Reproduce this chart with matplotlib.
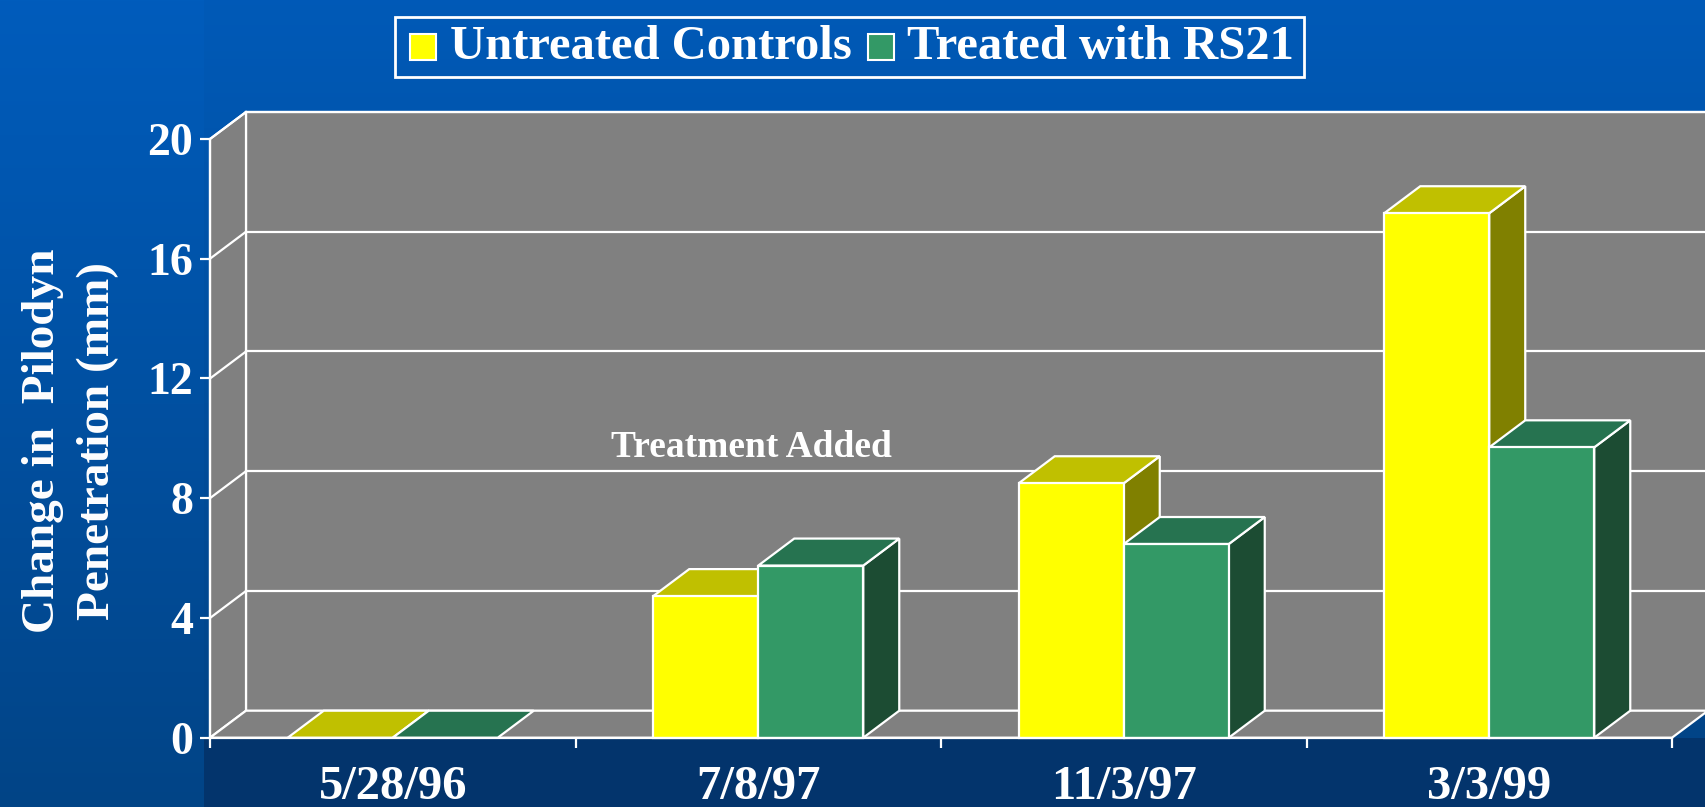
import numpy as np
import matplotlib
matplotlib.use('Agg')
from matplotlib import pyplot as plt
from matplotlib.patches import Polygon, Rectangle

plt.rcParams['font.family'] = ['Liberation Serif', 'DejaVu Serif']
plt.rcParams['font.weight'] = 'bold'

dates = ['5/28/96', '7/8/97', '11/3/97', '3/3/99']
untreated = [0.0, 4.73, 8.50, 17.52]
treated = [0.0, 5.75, 6.47, 9.70]
series_names = ['Untreated Controls', 'Treated with RS21']
y_ticks = [0, 4, 8, 12, 16, 20]

# colours: front, top, side
yellow = ('#ffff00', '#c0c000', '#808000')
green = ('#339966', '#267350', '#1c4c33')
gray = '#808080'

W, H = 1705, 807
DX = 36 / 365.5   # depth offset in category units
DY = 27 / 29.93   # depth offset in value units
BW = 0.2873       # bar width

fig = plt.figure(figsize=(W / 100, H / 100), dpi=100)

# background gradient
bg = fig.add_axes([0, 0, 1, 1], zorder=-10)
t = np.linspace(0, 1, H)[:, None]
top = np.array([0, 92, 188]) / 255
bot = np.array([2, 68, 134]) / 255
img = np.ones((H, W, 3)) * (top + (bot - top) * t)[:, None, :].reshape(H, 1, 3)
img[:, 204:, :] *= 0.975
img[738:, 204:, :] = np.array([3, 52, 108]) / 255
bg.imshow(img, aspect='auto', extent=[0, W, H, 0])
bg.set_xlim(0, W)
bg.set_ylim(H, 0)
bg.axis('off')

ax = fig.add_axes([210 / W, (H - 737.7) / H, 1462 / W, (737.7 - 139) / H])
ax.set_xlim(0, 4)
ax.set_ylim(0, 20)
ax.patch.set_visible(False)
for s in ax.spines.values():
    s.set_visible(False)

def poly(pts, fc, z=1):
    ax.add_patch(Polygon(pts, closed=True, facecolor=fc, edgecolor='white',
                         linewidth=1.6, clip_on=False, zorder=z, joinstyle='miter'))

# walls and floor
poly([(DX, DY), (4 + DX, DY), (4 + DX, 20 + DY), (DX, 20 + DY)], gray, 0)
poly([(0, 0), (DX, DY), (DX, 20 + DY), (0, 20)], gray, 0)
poly([(0, 0), (4, 0), (4 + DX, DY), (DX, DY)], gray, 0)
for v in y_ticks[1:]:
    ax.plot([DX, 4 + DX], [v + DY, v + DY], color='white', lw=1.6, clip_on=False, zorder=0.5)
    ax.plot([0, DX], [v, v + DY], color='white', lw=1.6, clip_on=False, zorder=0.5)

def bar3d(x0, h, cols, z):
    x1 = x0 + BW
    if h > 0:
        poly([(x1, 0), (x1 + DX, DY), (x1 + DX, h + DY), (x1, h)], cols[2], z)
    poly([(x0, h), (x1, h), (x1 + DX, h + DY), (x0 + DX, h + DY)], cols[1], z)
    if h > 0:
        poly([(x0, 0), (x1, 0), (x1, h), (x0, h)], cols[0], z)

for i in range(len(dates)):
    c = i + 0.5
    bar3d(c - BW, untreated[i], yellow, 2 + i)
    bar3d(c, treated[i], green, 2.5 + i)

ax.plot([0, 0], [0, 20], color='white', lw=1.6, clip_on=False, zorder=10)
ax.plot([0, 4], [0, 0], color='white', lw=1.6, clip_on=False, zorder=10)

ax.text(1.48, 9.7, 'Treatment Added', color='white', fontsize=27,
        ha='center', va='center', zorder=20)

# ticks
ax.set_yticks(y_ticks)
ax.set_yticklabels([str(v) for v in y_ticks])
ax.tick_params(axis='y', colors='white', length=7.2, width=1.6, pad=5, labelsize=33)
ax.set_xticks([0, 1, 2, 3, 4])
ax.set_xticklabels([])
ax.set_xticks([i + 0.5 for i in range(len(dates))], minor=True)
ax.set_xticklabels(dates, minor=True)
ax.tick_params(axis='x', which='major', colors='white', length=7.2, width=1.6)
ax.tick_params(axis='x', which='minor', colors='white', length=0, pad=20, labelsize=35)

fig.text(0.0415, 0.4535, 'Change in  Pilodyn\nPenetration (mm)', color='white',
         fontsize=34, rotation=90, ha='center', va='center',
         multialignment='center', linespacing=1.4)

# legend box
bg.add_patch(Rectangle((395, 17), 909, 60, facecolor='none', edgecolor='white', lw=2))
bg.add_patch(Rectangle((410, 34), 26, 26, facecolor=yellow[0], edgecolor='white', lw=1.5))
bg.add_patch(Rectangle((868, 34), 26, 26, facecolor=green[0], edgecolor='white', lw=1.5))
bg.text(450, 47, series_names[0], color='white', fontsize=35, ha='left', va='center')
bg.text(907, 47, series_names[1], color='white', fontsize=35, ha='left', va='center')

fig.savefig('out.png', dpi=100)
